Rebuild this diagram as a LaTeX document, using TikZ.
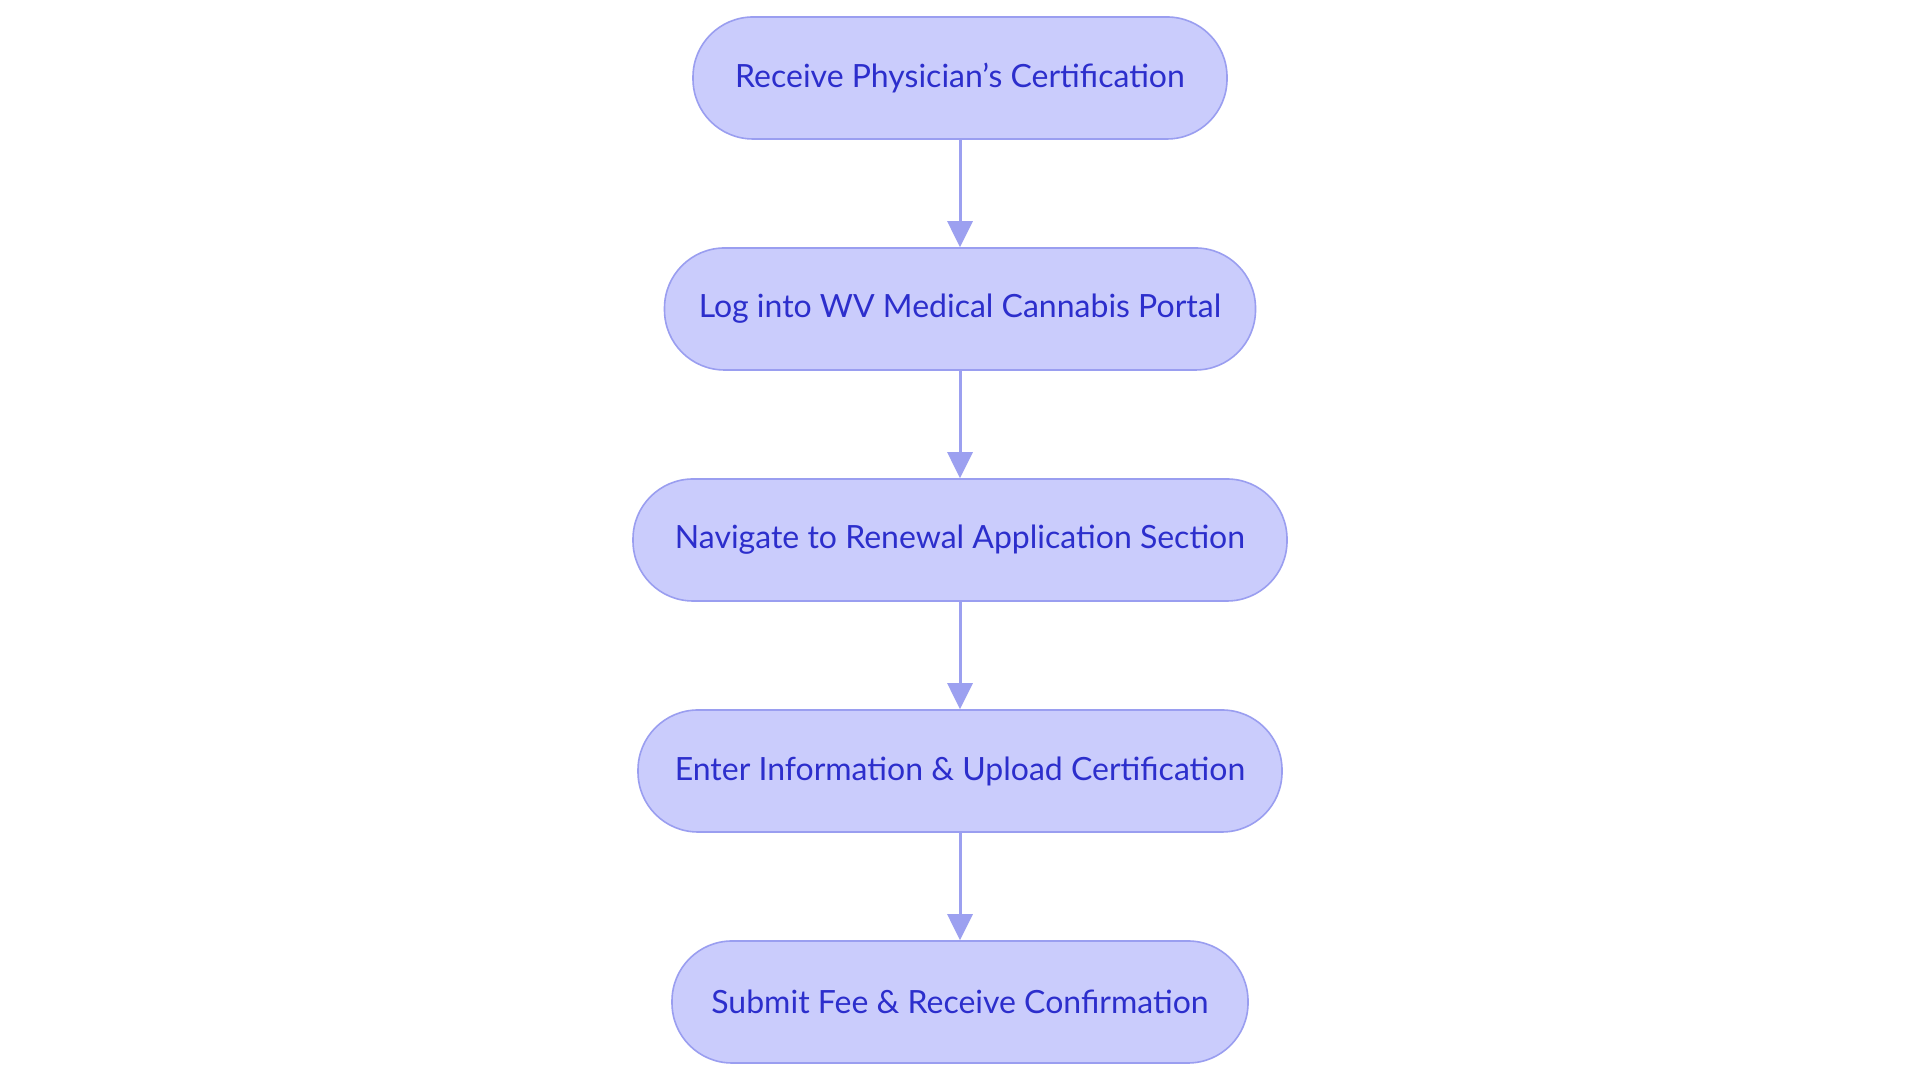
\documentclass[tikz,border=0pt]{standalone}
\usepackage{fontspec}
\setmainfont{Lato}
\usetikzlibrary{arrows.meta}
\definecolor{boxfill}{HTML}{CACCFC}
\definecolor{boxline}{HTML}{9A9EF0}
\definecolor{boxtext}{HTML}{2C2ECC}
\definecolor{arrowc}{HTML}{9CA0F0}
\tikzset{
  stepbox/.style={draw=boxline, fill=boxfill, line width=1.6pt, rounded corners=60pt,
    minimum height=122pt, inner sep=0pt, text=boxtext,
    font=\fontsize{32}{38}\selectfont},
  flow/.style={draw=arrowc, line width=3pt, -{Triangle[length=26pt,width=25pt]}, shorten >=0pt}
}
\begin{document}
\begin{tikzpicture}[x=1pt,y=1pt]
\useasboundingbox (0,0) rectangle (1920,1083);
\fill[white] (0,0) rectangle (1920,1083);
\node[stepbox, minimum width=534pt] (n1) at (960,1005) {Receive Physician’s Certification};
\node[stepbox, minimum width=591pt] (n2) at (960,774) {Log into WV Medical Cannabis Portal};
\node[stepbox, minimum width=654pt] (n3) at (960,543) {Navigate to Renewal Application Section};
\node[stepbox, minimum width=644pt] (n4) at (960,312) {Enter Information \& Upload Certification};
\node[stepbox, minimum width=576pt] (n5) at (960,81) {Submit Fee \& Receive Confirmation};
\draw[flow] (n1) -- (n2);
\draw[flow] (n2) -- (n3);
\draw[flow] (n3) -- (n4);
\draw[flow] (n4) -- (n5);
\end{tikzpicture}
\end{document}
